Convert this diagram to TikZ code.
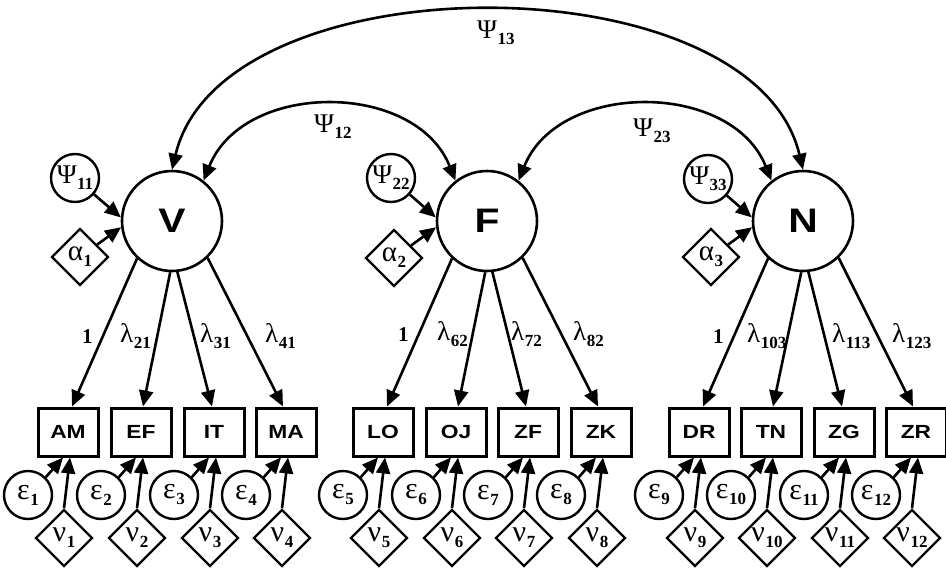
\documentclass[tikz,border=0pt]{standalone}
\usepackage{fontspec}
\usepackage{graphicx}
\setmainfont{Liberation Serif}
\newfontfamily\lsans{Liberation Sans}
\usetikzlibrary{arrows.meta,shapes.geometric}
\newcommand\gs[3][27]{{\fontsize{#1}{#1}\selectfont #2}\kern0.5pt\raisebox{-6pt}{\bfseries\fontsize{17}{17}\selectfont #3}}
\newcommand\lab[2][19]{\scalebox{1.2}[1]{\lsans\bfseries\fontsize{#1}{#1}\selectfont #2}}
\tikzset{
  lat/.style={circle, draw, line width=2.6pt, minimum size=100pt, inner sep=0pt},
  obs/.style={rectangle, draw, line width=3pt, minimum width=60pt, minimum height=48pt, inner sep=0pt},
  errc/.style={circle, draw, line width=2.4pt, minimum size=48pt, inner sep=0pt},
  dia/.style={diamond, draw, line width=2.4pt, minimum width=57pt, minimum height=57pt, aspect=1, inner sep=0pt},
  arr/.style={-{Triangle[length=16pt,width=14pt]}, line width=2.6pt},
  dbl/.style={{Triangle[length=16pt,width=14pt]}-{Triangle[length=16pt,width=14pt]}, line width=2.6pt},
  lbl/.style={inner sep=0pt, anchor=base west},
}
\begin{document}
\begin{tikzpicture}[x=1pt,y=1pt]
\useasboundingbox[fill=white] (0,-568) rectangle (946,0);
% latent variables
\node[lat] (V) at (172,-221) {\lab[34]{V}};
\node[lat] (F) at (487,-221) {\lab[34]{F}};
\node[lat] (N) at (803,-221) {\lab[34]{N}};
% variances and means
\node[errc] (P1) at (75,-178) {\gs{Ψ}{11}};
\node[errc] (P2) at (391,-178) {\gs{Ψ}{22}};
\node[errc] (P3) at (708,-179) {\gs{Ψ}{33}};
\node[dia] (A1) at (80,-257) {\gs[29]{α}{1}};
\node[dia] (A2) at (394,-258) {\gs[29]{α}{2}};
\node[dia] (A3) at (711,-257) {\gs[29]{α}{3}};
\foreach \i/\L in {1/V,2/F,3/N}{
  \draw[arr] (P\i) -- (\L.176);
  \draw[arr] (A\i) -- (\L.187);
}
% covariances
\draw[dbl] (V.52) .. controls +(40,100) and +(-40,100) .. (F.128);
\draw[dbl] (F.52) .. controls +(40,100) and +(-40,100) .. (N.128);
\draw[dbl] (V.90) .. controls +(50,211) and +(-50,211) .. (N.90);
\node[lbl] (L12) at (314,-132) {\gs{Ψ}{12}};
\node[lbl] (L23) at (633,-136) {\gs{Ψ}{23}};
\node[lbl] (L13) at (477,-38) {\gs{Ψ}{13}};
% indicators
\foreach \n/\x/\i in {AM/68/1,EF/141/2,IT/214/3,MA/286/4,LO/383/5,OJ/456/6,ZF/528/7,ZK/601/8,DR/699/9,TN/771/10,ZG/844/11,ZR/916/12}{
  \node[obs] (\n) at (\x,-432) {\lab{\n}};
  \node[errc] (e\i) at (\x-40,-495) {\gs[30]{ε}{\i}};
  \node[dia] (n\i) at (\x-4,-538) {\gs[30]{ν}{\i}};
  \draw[arr] (e\i.45) -- ([xshift=-5pt]\n.south);
  \draw[arr] (n\i.north) -- ([xshift=2pt]\n.south);
}
% loadings
\foreach \L/\a/\b/\c/\d in {V/AM/EF/IT/MA,F/LO/OJ/ZF/ZK,N/DR/TN/ZG/ZR}{
  \draw[arr] (\L.227) -- ([xshift=4pt]\a.north);
  \draw[arr] (\L.268) -- ([xshift=2pt]\b.north);
  \draw[arr] (\L.276) -- ([xshift=-2pt]\c.north);
  \draw[arr] (\L.314) -- ([xshift=-3pt]\d.north);
}
\node[lbl] (one1) at (82,-343) {\bfseries\fontsize{21}{21}\selectfont 1};
\node[lbl] (one2) at (398,-341) {\bfseries\fontsize{21}{21}\selectfont 1};
\node[lbl] (one3) at (713,-343) {\bfseries\fontsize{21}{21}\selectfont 1};
\node[lbl] (l21) at (120,-342) {\gs{λ}{21}};
\node[lbl] (l31) at (200,-342) {\gs{λ}{31}};
\node[lbl] (l41) at (265,-342) {\gs{λ}{41}};
\node[lbl] (l62) at (437,-340) {\gs{λ}{62}};
\node[lbl] (l72) at (511,-340) {\gs{λ}{72}};
\node[lbl] (l82) at (573,-340) {\gs{λ}{82}};
\node[lbl] (l103) at (747,-342) {\gs{λ}{103}};
\node[lbl] (l113) at (832,-342) {\gs{λ}{113}};
\node[lbl] (l123) at (892,-342) {\gs{λ}{123}};
\end{tikzpicture}
\end{document}
